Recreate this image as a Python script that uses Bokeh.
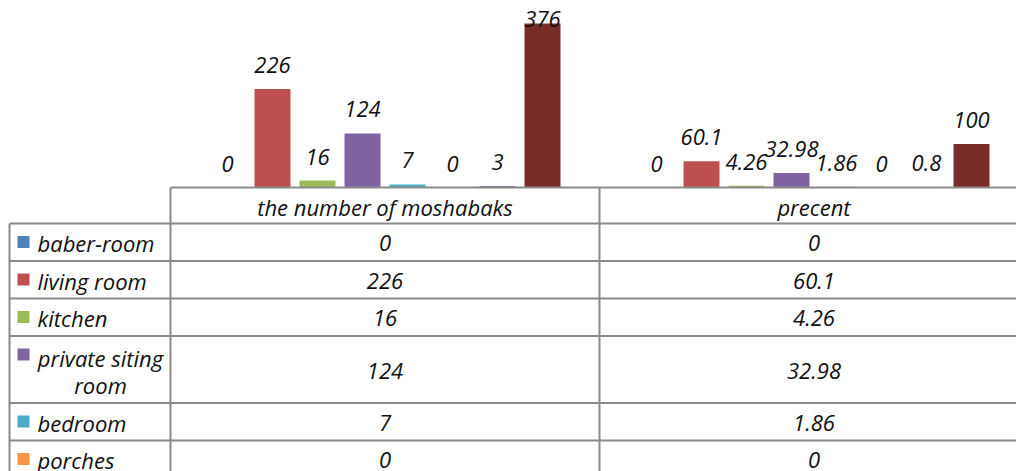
import numpy as np
from bokeh.plotting import figure
from bokeh.models import Range1d, ColumnDataSource
from bokeh.core.properties import value
from bokeh.embed import file_html
from bokeh.resources import INLINE

# ---------------- data ----------------
categories = ["the number of moshabaks", "precent"]
series_names = ["baber-room", "living room", "kitchen", "private siting room",
                "bedroom", "porches", "", ""]
count_values = [0, 226, 16, 124, 7, 0, 3, 376]
percent_values = [0, 60.1, 4.26, 32.98, 1.86, 0, 0.8, 100]
series_colors = ["#4F81BD", "#C0504D", "#9BBB59", "#8064A2",
                 "#4BACC6", "#F79646", "#2C4D75", "#772C2A"]
visible_rows = 6  # the table below is cropped after "porches"

# ---------------- layout ----------------
W, H = 1016, 471
CAT_PX = 429.0          # pixel width of one category
CAT0_LEFT = 170.0       # left edge of first category (figure px)
BASE_PX = 187.0         # baseline of bars (figure px)
SCALE = 0.436           # px per unit
FONT = value("Open Sans")
FS = "22px"

x0 = -0.5 - CAT0_LEFT / CAT_PX
x1 = x0 + W / CAT_PX
Y_TOP = BASE_PX / SCALE
Y_BOT = -(H - BASE_PX) / SCALE

p = figure(width=W, height=H, x_range=Range1d(x0, x1), y_range=Range1d(Y_BOT, Y_TOP),
           output_backend="svg", toolbar_location=None,
           x_axis_location=None, y_axis_location=None,
           min_border=0, min_border_left=0, min_border_right=0,
           min_border_top=0, min_border_bottom=0)
p.grid.visible = False
p.outline_line_color = None
p.background_fill_color = "white"
p.border_fill_color = "white"
p.extra_x_ranges = {"px": Range1d(0, W)}
p.extra_y_ranges = {"px": Range1d(H, 0)}

n = len(series_names)
step = 45.0 / CAT_PX
bw = 36.0 / CAT_PX

# ---------------- bars + labels ----------------
for ci, vals in enumerate([count_values, percent_values]):
    vals = np.array(vals, dtype=float)
    xs = ci + (np.arange(n) - (n - 1) / 2) * step
    src = ColumnDataSource(dict(x=xs, top=vals, color=series_colors,
                                lab=[f"{v:g}" for v in vals],
                                ly=np.minimum(vals, Y_TOP - 98)))
    p.vbar(x="x", top="top", bottom=0, width=bw, color="color",
           line_color=None, source=src)
    p.text(x="x", y="ly", text="lab", source=src, text_align="center",
           text_baseline="alphabetic", y_offset=-24, text_font=FONT,
           text_font_size=FS, text_font_style="italic", text_color="#111111")

# ---------------- data table ----------------
LINE = dict(line_color="#8a8a8a", line_width=2, x_range_name="px", y_range_name="px")
header_top, header_bot = 187, 223
left_col = 9
cat_edges = [CAT0_LEFT + i * CAT_PX for i in range(len(categories) + 1)]

wrapped = [len(s) > 14 for s in series_names[:visible_rows]]
heights = [67 if w else 37.5 for w in wrapped]
tops = [header_bot + sum(heights[:i]) for i in range(visible_rows)]
bottom_edge = tops[-1] + heights[-1]

# horizontal lines
p.segment(x0=[cat_edges[0]], y0=[header_top], x1=[W + 30], y1=[header_top], **LINE)
p.segment(x0=[left_col] * (visible_rows + 1), y0=tops + [bottom_edge],
          x1=[W + 30] * (visible_rows + 1), y1=tops + [bottom_edge], **LINE)
# vertical lines
p.segment(x0=[left_col], y0=[header_bot], x1=[left_col], y1=[H + 30], **LINE)
p.segment(x0=cat_edges, y0=[header_top] * len(cat_edges), x1=cat_edges,
          y1=[H + 30] * len(cat_edges), **LINE)

TXT = dict(text_font=FONT, text_font_size=FS, text_font_style="italic",
           text_color="#111111", text_baseline="middle")

# header
p.text(x=list(range(len(categories))), y=[(header_top + header_bot) / 2 + 1] * len(categories),
       text=categories, text_align="center", y_range_name="px", **TXT)

# legend keys
p.quad(left=[17] * visible_rows, right=[29] * visible_rows,
       top=[t + 12.5 for t in tops], bottom=[t + 24.5 for t in tops],
       color=series_colors[:visible_rows], line_color=None,
       x_range_name="px", y_range_name="px")

# row names
for i in range(visible_rows):
    cy = tops[i] + heights[i] / 2 + 1
    name = series_names[i]
    if wrapped[i]:
        words = name.split(" ")
        lines = [" ".join(words[:-1]), words[-1]]
        p.text(x=[100, 100], y=[cy - 12.5, cy + 14.5], text=lines, text_align="center",
               x_range_name="px", y_range_name="px", **TXT)
    else:
        p.text(x=[37], y=[cy], text=[name], text_align="left",
               x_range_name="px", y_range_name="px", **TXT)

# cell values
for ci, vals in enumerate([count_values, percent_values]):
    ys = [tops[i] + heights[i] / 2 + 1 for i in range(visible_rows)]
    p.text(x=[ci] * visible_rows, y=ys, text=[f"{v:g}" for v in vals[:visible_rows]],
           text_align="center", y_range_name="px", **TXT)

open("out.html", "w").write(file_html(p, INLINE))
